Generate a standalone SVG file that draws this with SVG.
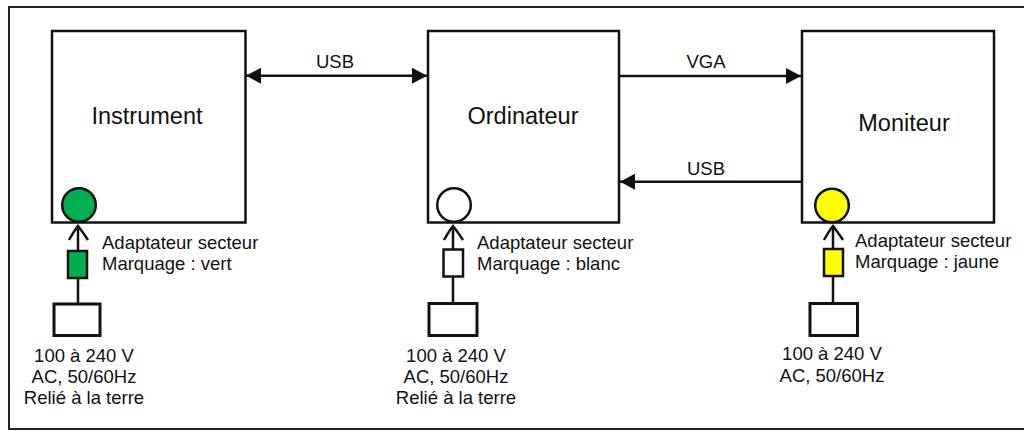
<svg xmlns="http://www.w3.org/2000/svg" width="1024" height="431" viewBox="0 0 1024 431">
<defs>
<style>
.box{fill:#fff;stroke:#111;stroke-width:2.5}
.ln{fill:none;stroke:#111;stroke-width:2.5}
.chev{fill:none;stroke:#111;stroke-width:2.5;stroke-linejoin:miter}
.big{font-family:"Liberation Sans",Arial,sans-serif;font-size:23.5px;fill:#111}
.sm{font-family:"Liberation Sans",Arial,sans-serif;font-size:18.5px;fill:#111}
.dot{stroke:#111;stroke-width:2.5}
</style>
<marker id="ah" viewBox="0 0 15 16" refX="15" refY="8" markerWidth="15" markerHeight="16" markerUnits="userSpaceOnUse" orient="auto-start-reverse">
<path d="M0,0 L15,8 L0,16 Z" fill="#111"/>
</marker>
</defs>
<rect x="9" y="7" width="1030" height="422" fill="#fff" stroke="#222" stroke-width="2"/>

<g id="instrument">
<rect class="box" x="52" y="31" width="193.5" height="191.5"/>
<text class="big" x="147" y="124" text-anchor="middle">Instrument</text>
<circle class="dot" cx="79" cy="205" r="16.8" fill="#00b050"/>
</g>
<g id="ordinateur">
<rect class="box" x="428" y="31" width="191" height="191.5"/>
<text class="big" x="523" y="124" text-anchor="middle">Ordinateur</text>
<circle class="dot" cx="454" cy="205" r="16.8" fill="#fff"/>
</g>
<g id="moniteur">
<rect class="box" x="802" y="31" width="192" height="191.5"/>
<text class="big" x="904" y="131" text-anchor="middle">Moniteur</text>
<circle class="dot" cx="832" cy="205.5" r="16.8" fill="#ffff00"/>
</g>

<g id="alim-instrument">
<rect class="box" x="68" y="251" width="19" height="27" style="fill:#00b050"/>
<rect class="box" x="54" y="304" width="46" height="31.5" style="stroke-width:3"/>
<text class="sm" x="102" y="249">Adaptateur secteur</text>
<text class="sm" x="102" y="270">Marquage : vert</text>
<text class="sm" x="84" y="362" text-anchor="middle">100 à 240 V</text>
<text class="sm" x="84" y="383" text-anchor="middle">AC, 50/60Hz</text>
<text class="sm" x="84" y="404" text-anchor="middle">Relié à la terre</text>
</g>
<g id="alim-ordinateur">
<rect class="box" x="443.5" y="249.5" width="19.5" height="27" style="fill:#fff"/>
<rect class="box" x="429" y="303.5" width="48" height="32" style="stroke-width:3"/>
<text class="sm" x="477" y="249">Adaptateur secteur</text>
<text class="sm" x="477" y="270">Marquage : blanc</text>
<text class="sm" x="456" y="362" text-anchor="middle">100 à 240 V</text>
<text class="sm" x="456" y="383" text-anchor="middle">AC, 50/60Hz</text>
<text class="sm" x="456" y="404" text-anchor="middle">Relié à la terre</text>
</g>
<g id="alim-moniteur">
<rect class="box" x="824" y="249" width="19" height="27" style="fill:#ffff00"/>
<rect class="box" x="810" y="303.5" width="47.5" height="32" style="stroke-width:3"/>
<text class="sm" x="855" y="247">Adaptateur secteur</text>
<text class="sm" x="855" y="268">Marquage : jaune</text>
<text class="sm" x="832" y="360" text-anchor="middle">100 à 240 V</text>
<text class="sm" x="832" y="381.5" text-anchor="middle">AC, 50/60Hz</text>
</g>

<g id="connectors">
<line class="ln" x1="246" y1="75.7" x2="427" y2="75.7" marker-start="url(#ah)" marker-end="url(#ah)"/>
<text class="sm" x="335" y="68" text-anchor="middle">USB</text>
<line class="ln" x1="619" y1="76" x2="801" y2="76" marker-end="url(#ah)"/>
<text class="sm" x="706" y="68" text-anchor="middle">VGA</text>
<line class="ln" x1="802" y1="181.7" x2="620" y2="181.7" marker-end="url(#ah)"/>
<text class="sm" x="706" y="175" text-anchor="middle">USB</text>

<line class="ln" x1="78" y1="226" x2="78" y2="251"/>
<line class="ln" x1="78" y1="278" x2="78" y2="304"/>
<path class="chev" d="M69,240 Q74,231 78,226 Q82,231 88,240"/>

<line class="ln" x1="453" y1="226" x2="453" y2="249.5"/>
<line class="ln" x1="453" y1="276.5" x2="453" y2="303.5"/>
<path class="chev" d="M444,240 Q449,231 453,226 Q457,231 463,240"/>

<line class="ln" x1="833" y1="226" x2="833" y2="249"/>
<line class="ln" x1="833" y1="276" x2="833" y2="303.5"/>
<path class="chev" d="M824,240 Q829,231 833,226 Q837,231 843,240"/>
</g>
</svg>
